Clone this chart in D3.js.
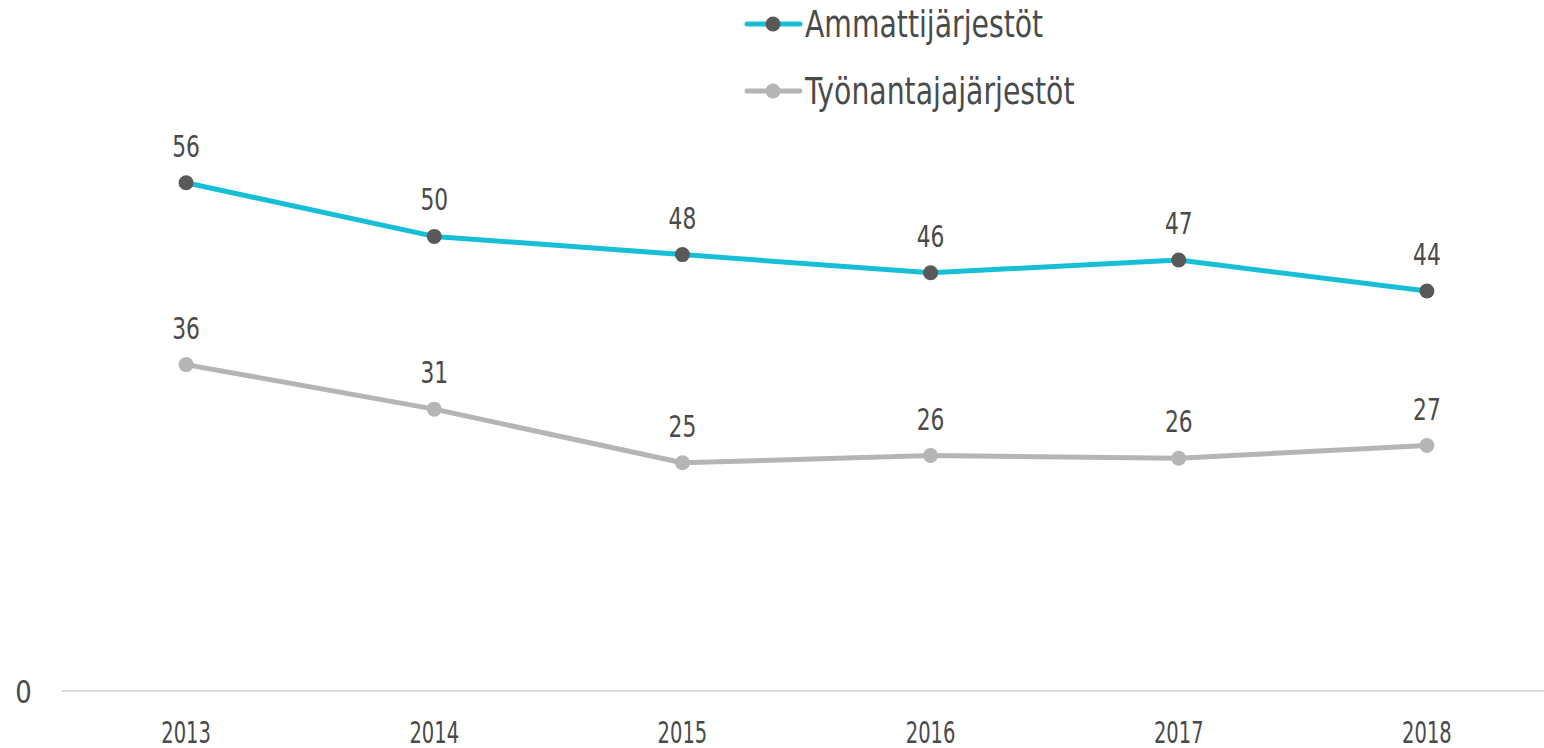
<!DOCTYPE html>
<html>
<head>
<meta charset="utf-8">
<script src="https://cdn.jsdelivr.net/npm/d3@7"></script>
<style>
  body { margin: 0; background: #fff; }
  text { font-family: "DejaVu Sans Condensed", "Liberation Sans Narrow", sans-serif; fill: #4a4a4a; }
</style>
</head>
<body>
<div id="chart"></div>
<script>
var years = ["2013", "2014", "2015", "2016", "2017", "2018"];
var ammatti = [55.9, 50.0, 48.0, 46.0, 47.4, 44.0];
var tyonantaja = [35.9, 31.0, 25.1, 25.9, 25.6, 27.0];
var seriesNames = ["Ammattijärjestöt", "Työnantajajärjestöt"];
var yTicks = [0];

var width = 1544, height = 748;

var svg = d3.select("#chart").append("svg")
    .attr("width", width)
    .attr("height", height);

var x = d3.scaleBand()
    .domain(years)
    .range([62, 1551]);

var y = d3.scaleLinear()
    .domain([0, 76])
    .range([691, 0]);

var series = [
  {name: seriesNames[0], values: ammatti, line: "#17bfd6", dot: "#595959"},
  {name: seriesNames[1], values: tyonantaja, line: "#b5b5b5", dot: "#b5b5b5"}
];

// squeeze the condensed font horizontally to get closer to the narrow original
function pos(px, py, k) {
  return "translate(" + px + "," + py + ") scale(" + k + ",1)";
}

// baseline
svg.append("line")
    .attr("x1", 62).attr("x2", 1544)
    .attr("y1", y(0)).attr("y2", y(0))
    .attr("stroke", "#d9d9d9")
    .attr("stroke-width", 2);

svg.selectAll(".ytick")
    .data(yTicks)
    .enter().append("text")
    .attr("class", "ytick")
    .attr("transform", function(d) { return pos(23.5, y(d), 0.9); })
    .attr("dy", "0.36em")
    .attr("text-anchor", "middle")
    .attr("font-size", 32)
    .text(function(d) { return d; });

svg.selectAll(".xtick")
    .data(years)
    .enter().append("text")
    .attr("class", "xtick")
    .attr("transform", function(d) { return pos(x(d) + x.bandwidth() / 2, 743, 0.7); })
    .attr("text-anchor", "middle")
    .attr("font-size", 31)
    .text(function(d) { return d; });

var cx = function(d, i) { return x(years[i]) + x.bandwidth() / 2; };
var line = d3.line()
    .x(cx)
    .y(function(d) { return y(d); });

var fmt = d3.format(".0f");

series.forEach(function(s) {
  var g = svg.append("g");
  g.append("path")
      .datum(s.values)
      .attr("d", line)
      .attr("fill", "none")
      .attr("stroke", s.line)
      .attr("stroke-width", 5)
      .attr("stroke-linejoin", "round");
  g.selectAll("circle")
      .data(s.values)
      .enter().append("circle")
      .attr("cx", cx)
      .attr("cy", function(d) { return y(d); })
      .attr("r", 7.5)
      .attr("fill", s.dot);
  g.selectAll("text")
      .data(s.values)
      .enter().append("text")
      .attr("transform", function(d, i) { return pos(cx(d, i), y(d) - 26, 0.78); })
      .attr("text-anchor", "middle")
      .attr("font-size", 31)
      .text(function(d) { return fmt(d); });
});

// legend
var legend = svg.selectAll(".legend")
    .data(series)
    .enter().append("g")
    .attr("class", "legend")
    .attr("transform", function(d, i) { return "translate(745," + (24 + i * 67) + ")"; });

legend.append("line")
    .attr("x1", 2).attr("x2", 55)
    .attr("stroke", function(d) { return d.line; })
    .attr("stroke-width", 5)
    .attr("stroke-linecap", "round");

legend.append("circle")
    .attr("cx", 28)
    .attr("r", 7.5)
    .attr("fill", function(d) { return d.dot; });

legend.append("text")
    .attr("transform", pos(60, 0, 0.85))
    .attr("dy", "0.36em")
    .attr("font-size", 37)
    .text(function(d) { return d.name; });
</script>
</body>
</html>
